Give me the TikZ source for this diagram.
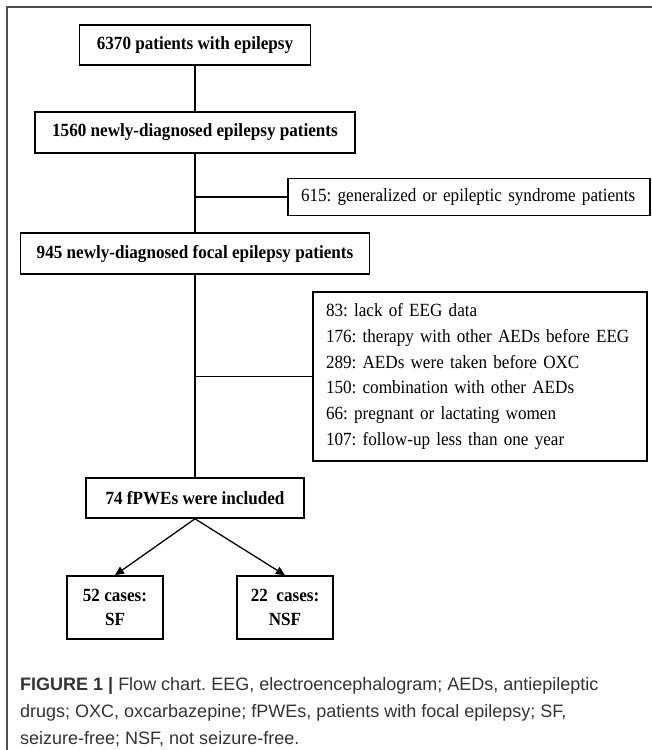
\documentclass[tikz,border=0pt]{standalone}
\usepackage{fontspec}
\setmainfont[FakeStretch=0.92]{Liberation Serif}
\newfontfamily\capfont{Liberation Sans}
\usetikzlibrary{arrows.meta}
\definecolor{capgray}{HTML}{333333}
\definecolor{framegray}{HTML}{4D4D4D}
\frenchspacing

\begin{document}
\begin{tikzpicture}[x=1pt,y=-1pt]
    \tikzset{box/.style = {draw, line width=1.6pt, inner sep=0pt,
        font=\fontsize{18.6}{24}\selectfont\bfseries, align=center},
      list/.style = {draw, line width=1.6pt, inner xsep=13pt, inner ysep=0pt,
        font=\fontsize{18.6}{25.8}\selectfont, align=left},
      link/.style = {line width=1.3pt},
      capline/.style = {anchor=base west, inner sep=0pt, text=capgray,
        font=\capfont\fontsize{18}{27}\selectfont}}

    \def\Trunk{195};

    \useasboundingbox (0,0) rectangle (652,750);

    % Draw the frame.
    \draw[framegray, line width=2pt] (7,750) -- (7,7) -- (652,7);

    % Draw the main boxes.
    \node[box, minimum width=231pt, minimum height=40pt] (all) at (\Trunk,45) {6370 patients with epilepsy};
    \node[box, minimum width=320pt, minimum height=41pt] (new) at (\Trunk,132.5) {1560 newly-diagnosed epilepsy patients};
    \node[box, minimum width=349pt, minimum height=41pt] (focal) at (\Trunk,253.5) {945 newly-diagnosed focal epilepsy patients};
    \node[box, minimum width=218pt, minimum height=40pt] (incl) at (\Trunk,498) {74 fPWEs were included};
    \node[box, minimum width=96pt, minimum height=63pt] (sf) at (115,607.5) {52 cases:\\SF};
    \node[box, minimum width=96pt, minimum height=63pt] (nsf) at (285,607.5) {22\ \ cases:\\NSF};

    % Draw the exclusion boxes.
    \node[list, text width=336pt, minimum height=37pt] (ex1) at (469,197) {615: generalized or epileptic syndrome patients};
    \node[list, text width=308pt, minimum height=169pt] (ex2) at (480,376.5) {83: lack of EEG data\\
        176: therapy with other AEDs before EEG\\
        289: AEDs were taken before OXC\\
        150: combination with other AEDs\\
        66: pregnant or lactating women\\
        107: follow-up less than one year};

    % Draw the connectors.
    \draw[link] (all) -- (new);
    \draw[link] (new) -- (focal);
    \draw[link] (new.south |- ex1) -- (ex1);
    \draw[link] (focal) -- (incl);
    \draw[link] (focal.south |- ex2) -- (ex2);
    \draw[link, -{Triangle[length=9pt,width=8pt]}] (incl.south) -- (sf.north);
    \draw[link, -{Triangle[length=9pt,width=8pt]}] (incl.south) -- (nsf.north);

    % Draw the caption.
    \node[capline] (cap1) at (20,690) {\textbf{FIGURE 1 |} Flow chart. EEG, electroencephalogram; AEDs, antiepileptic};
    \node[capline] (cap2) at (20,717) {drugs; OXC, oxcarbazepine; fPWEs, patients with focal epilepsy; SF,};
    \node[capline] (cap3) at (20,744) {seizure-free; NSF, not seizure-free.};
\end{tikzpicture}
\end{document}
